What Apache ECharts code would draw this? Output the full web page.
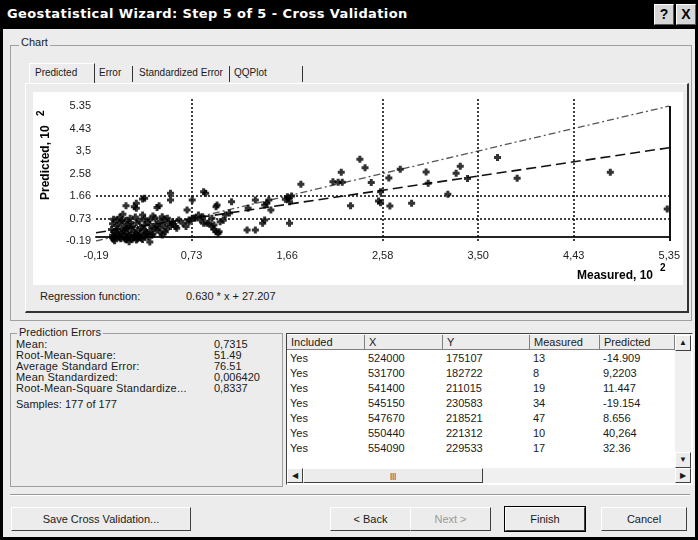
<!DOCTYPE html>
<html>
<head>
<meta charset="utf-8">
<script src="https://cdn.jsdelivr.net/npm/echarts@6.0.0/dist/echarts.min.js"></script>
<style>
html,body{margin:0;padding:0;}
body{width:698px;height:540px;overflow:hidden;background:#000;position:relative;font-family:"Liberation Sans",Arial,sans-serif;font-size:11px;color:#1a1a1a;}
.a{position:absolute;white-space:nowrap;}
#face{left:3px;top:29px;width:692px;height:508px;background:#ececec;}
#title{left:7px;top:6px;color:#fff;font-weight:bold;font-size:13px;font-family:"DejaVu Sans",sans-serif;letter-spacing:0.4px;}
.tbtn{top:4px;width:18px;height:19px;background:#d6d6d6;border:1px solid #fff;border-right-color:#555;border-bottom-color:#555;font-weight:bold;font-size:14px;text-align:center;line-height:19px;color:#000;}
.grp{border:1px solid #a0a0a0;}
.lbl{background:#ececec;padding:0 2px;}
.btn{height:22px;background:#ececec;border:1px solid #fff;border-right:1px solid #404040;border-bottom:1px solid #404040;text-align:center;line-height:22px;}
.sep{width:1px;background:#333;}
.tab{top:67px;font-size:10px;}
.hd{top:335px;height:15px;line-height:15px;background:#ececec;border-right:1px solid #808080;border-bottom:1px solid #808080;padding-left:4px;box-sizing:border-box;}
.cell{height:15px;line-height:15px;padding-left:3px;}
</style>
</head>
<body>
<div class="a" id="face"></div>
<div class="a" id="title">Geostatistical Wizard: Step 5 of 5 - Cross Validation</div>
<div class="a tbtn" style="left:654px">?</div>
<div class="a tbtn" style="left:676px">X</div>

<!-- Chart group -->
<div class="a grp" style="left:10px;top:45px;width:680px;height:274px;"></div>
<div class="a lbl" style="left:19px;top:36px;">Chart</div>
<!-- tabs -->
<div class="a" style="left:29px;top:63px;width:64px;height:20px;border-top:1px solid #fff;border-left:1px solid #fff;border-right:1px solid #333;"></div>
<div class="a tab" style="left:35px;">Predicted</div>
<div class="a tab" style="left:99px;">Error</div>
<div class="a tab" style="left:139px;">Standardized Error</div>
<div class="a tab" style="left:234px;">QQPlot</div>
<div class="a sep" style="left:132px;top:66px;height:16px;"></div>
<div class="a sep" style="left:229px;top:66px;height:16px;"></div>
<div class="a sep" style="left:302px;top:66px;height:16px;"></div>
<!-- tab page -->
<div class="a" style="left:25px;top:83px;width:661px;height:227px;border-top:1px solid #fff;border-left:1px solid #fff;border-right:2px solid #333;border-bottom:2px solid #333;"></div>
<div class="a" id="chart" style="left:33px;top:92px;width:650px;height:193px;background:#fff;"></div>
<div class="a" style="left:40px;top:290px;">Regression function:</div>
<div class="a" style="left:186px;top:290px;">0.630 * x + 27.207</div>

<!-- Prediction errors -->
<div class="a grp" style="left:10px;top:333px;width:271px;height:152px;"></div>
<div class="a lbl" style="left:17px;top:326px;">Prediction Errors</div>
<div class="a" style="left:16px;top:339px;line-height:11px;letter-spacing:0.2px;">Mean:<br>Root-Mean-Square:<br>Average Standard Error:<br>Mean Standardized:<br>Root-Mean-Square Standardize...</div>
<div class="a" style="left:214px;top:339px;line-height:11px;">0,7315<br>51.49<br>76.51<br>0,006420<br>0,8337</div>
<div class="a" style="left:16px;top:398px;">Samples: 177 of 177</div>

<!-- table -->
<div class="a" style="left:286px;top:333px;width:405px;height:150px;background:#fff;border:1px solid #404040;border-right-color:#fff;border-bottom-color:#fff;"></div>
<div class="a hd" style="left:287px;width:78px;">Included</div>
<div class="a hd" style="left:365px;width:78px;">X</div>
<div class="a hd" style="left:443px;width:87px;">Y</div>
<div class="a hd" style="left:530px;width:70px;">Measured</div>
<div class="a hd" style="left:600px;width:75px;">Predicted</div>
<div class="a" style="left:675px;top:335px;width:16px;height:133px;background:#f0f0f0;"></div>
<div class="a btn" style="left:675px;top:335px;width:14px;height:14px;line-height:14px;font-size:8px;">▲</div>
<div class="a btn" style="left:675px;top:452px;width:14px;height:14px;line-height:14px;font-size:8px;">▼</div>
<div class="a" style="left:287px;top:468px;width:404px;height:15px;background:#f0f0f0;"></div>
<div class="a btn" style="left:287px;top:468px;width:14px;height:13px;line-height:13px;font-size:8px;">◀</div>
<div class="a btn" style="left:303px;top:468px;width:178px;height:13px;line-height:13px;font-size:8px;">|||</div>
<div class="a btn" style="left:675px;top:468px;width:14px;height:13px;line-height:13px;font-size:8px;">▶</div>
<div id="rows"></div>

<!-- bottom -->
<div class="a" style="left:10px;top:494px;width:680px;height:1px;background:#999;border-bottom:1px solid #fff;"></div>
<div class="a btn" style="left:11px;top:507px;width:178px;">Save Cross Validation...</div>
<div class="a btn" style="left:330px;top:507px;width:79px;">&lt; Back</div>
<div class="a btn" style="left:410px;top:507px;width:79px;color:#9a9a9a;">Next &gt;</div>
<div class="a btn" style="left:505px;top:507px;width:78px;outline:1px solid #000;">Finish</div>
<div class="a btn" style="left:601px;top:507px;width:84px;">Cancel</div>

<script>
// ---- data (units of 1, axes show 10^2) ----
const measured = [
236,218,179,210,215,219,227,241,247,264,254,256,256,265,275,300,329,333,340,302,286,321,369,388,478,533,
166,164,167,168,170,148,144,146,150,135,128,127,135,144,142,168,112,98,97,93,100,95,88,85,87,74,69,53,53,42,26,20,18,10,7,1,28,106,97,99,85,90,93,95,101,80,84,71,74,77,58,48,45,53,68,45,50,55,61,65,71,76,82,20,40,104,110,
-2,4,10,14,19,23,28,33,38,43,47,51,
-3,1,5,8,12,16,20,24,28,31,35,39,42,46,49,55,59,
-4,-1,2,6,9,12,15,18,21,24,27,30,33,36,40,44,38,
-3,0,3,5,8,11,13,16,19,22,25,28,31,35,-2,10,20,26,
13,33,-1,
3,7,17,23,29,14,6,26,36,0,-3,11,
4,9,14,18,21
];
const predicted = [
317,263,214,224,222,222,126,282,221,240,145,138,183,125,275,264,259,288,237,218,136,173,324,239,263,112,
163,152,156,142,166,149,129,136,108,149,115,26,26,67,54,54,142,129,122,74,19,47,54,183,177,149,108,177,149,126,153,136,122,126,91,67,156,88,19,13,54,54,40,29,60,88,81,67,74,75,40,19,6,40,40,81,74,60,67,54,60,74,67,115,118,66,96,
70,78,66,74,79,63,72,67,75,62,70,57,
52,45,56,38,49,42,55,36,47,58,40,50,35,46,30,50,33,
28,20,31,14,25,10,30,18,24,12,29,16,22,10,26,15,33,
5,-4,8,-10,2,-6,6,-12,0,4,-8,3,-3,5,-12,-14,-15,-13,
-22,-23,-18,
-2,22,-5,-2,10,58,64,88,84,12,-6,34,
-6,-10,-8,4,-10
];
const tickValues = [-19, 73.33, 165.67, 258, 350.33, 442.67, 535];
const xTickLabels = ['-0,19','0,73','1,66','2,58','3,50','4,43','5,35'];
const yTickLabels = ['-0.19','0.73','1.66','2.58','3,5','4.43','5.35'];
const vGridValues = [73.33, 258, 350.33, 442.67];
const hGridValues = [73.33, 165.67];
const regressionX = [-19, 535];
const regressionY = [15, 364];
const referenceX = [-19, 535];
const referenceY = [-19, 535];

// ---- table ----
const tIncluded = ['Yes','Yes','Yes','Yes','Yes','Yes','Yes'];
const tX = ['524000','531700','541400','545150','547670','550440','554090'];
const tY = ['175107','182722','211015','230583','218521','221312','229533'];
const tMeas = ['13','8','19','34','47','10','17'];
const tPred = ['-14.909','9,2203','11.447','-19.154','8.656','40,264','32.36'];
const colLeft = [287,365,443,530,600];
let html = '';
for (let i = 0; i < tX.length; i++) {
  const top = 351 + i * 15;
  [tIncluded[i], tX[i], tY[i], tMeas[i], tPred[i]].forEach((v, j) => {
    html += `<div class="a cell" style="left:${colLeft[j]}px;top:${top}px;">${v}</div>`;
  });
}
document.getElementById('rows').innerHTML = html;

// ---- chart ----
const chart = echarts.init(document.getElementById('chart'), null, {renderer: 'canvas'});
const font = 'Liberation Sans';
function lab(arr) { return v => { const i = tickValues.findIndex(t => Math.abs(t - v) < 0.5); return i >= 0 ? arr[i] : ''; }; }
const gridLineStyle = {type: [2, 2], color: '#111', width: 1.6};
const mlData = [];
vGridValues.forEach(v => mlData.push([{coord: [v, -19], lineStyle: gridLineStyle}, {coord: [v, 572]}]));
hGridValues.forEach(v => mlData.push([{coord: [-19, v], lineStyle: gridLineStyle}, {coord: [535, v]}]));
mlData.push([{coord: [535, -19], lineStyle: {type: 'solid', color: '#111', width: 2}}, {coord: [535, 535]}]);

chart.setOption({
  animation: false,
  textStyle: {fontFamily: font},
  grid: {left: 63, right: 9, top: 5, bottom: 44},
  xAxis: {
    type: 'value', min: -19, max: 535,
    splitLine: {show: false}, axisTick: {show: false},
    axisLine: {show: true, lineStyle: {color: '#222', width: 2}},
    axisLabel: {customValues: tickValues, formatter: lab(xTickLabels), color: '#222', fontSize: 11, margin: 9, fontFamily: font}
  },
  yAxis: {
    type: 'value', min: -19, max: 572,
    splitLine: {show: false}, axisTick: {show: false},
    axisLine: {show: false},
    axisLabel: {customValues: tickValues, formatter: lab(yTickLabels), color: '#222', fontSize: 11, margin: 5, fontFamily: font}
  },
  graphic: [
    {type: 'text', x: 620, y: 184, style: {text: 'Measured, 10', textAlign: 'right', textVerticalAlign: 'middle', font: 'bold 12px "Liberation Sans"', fill: '#000'}},
    {type: 'text', x: 627, y: 176, style: {text: '2', textAlign: 'left', textVerticalAlign: 'middle', font: 'bold 10px "Liberation Sans"', fill: '#000'}},
    {type: 'text', x: 13, y: 108, rotation: Math.PI / 2, style: {text: 'Predicted, 10', textAlign: 'left', textVerticalAlign: 'middle', font: 'bold 12px "Liberation Sans"', fill: '#000'}},
    {type: 'text', x: 8, y: 24, rotation: Math.PI / 2, style: {text: '2', textAlign: 'left', textVerticalAlign: 'middle', font: 'bold 10px "Liberation Sans"', fill: '#000'}}
  ],
  series: [
    {
      type: 'line', z: 1, symbol: 'none', silent: true,
      data: referenceX.map((x, i) => [x, referenceY[i]]),
      lineStyle: {type: [7, 3, 2, 3], color: '#555', width: 1.3},
      markLine: {silent: true, symbol: 'none', label: {show: false}, animation: false, data: mlData}
    },
    {
      type: 'line', z: 2, symbol: 'none', silent: true,
      data: regressionX.map((x, i) => [x, regressionY[i]]),
      lineStyle: {type: [10, 5], color: '#111', width: 1.6}
    },
    {
      type: 'scatter', z: 3, clip: false,
      symbol: 'path://M2,0H5V2H7V5H5V7H2V5H0V2H2Z', symbolSize: 7,
      itemStyle: {color: '#000'},
      data: measured.map((m, i) => [m, predicted[i]])
    }
  ]
});
</script>
</body>
</html>
